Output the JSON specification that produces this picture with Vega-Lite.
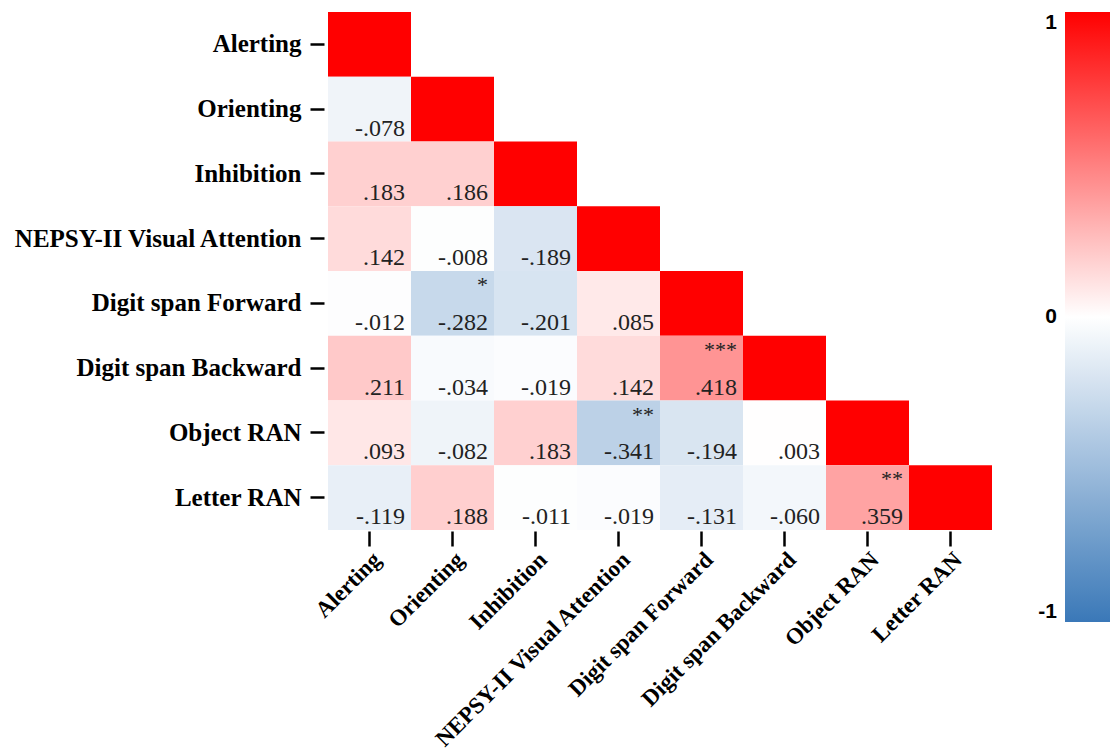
{
  "$schema": "https://vega.github.io/schema/vega-lite/v6.json",
  "autosize": {"type": "none"},
  "padding": {"left": 328, "top": 12, "right": 118, "bottom": 224},
  "width": 664,
  "height": 518,
  "background": "white",
  "config": {"view": {"stroke": null}},
  "data": {"values": [
    {"row": "Alerting", "col": "Alerting", "r": 1, "txt": "", "sig": ""},
    {"row": "Orienting", "col": "Alerting", "r": -0.078, "txt": "-.078", "sig": ""},
    {"row": "Orienting", "col": "Orienting", "r": 1, "txt": "", "sig": ""},
    {"row": "Inhibition", "col": "Alerting", "r": 0.183, "txt": ".183", "sig": ""},
    {"row": "Inhibition", "col": "Orienting", "r": 0.186, "txt": ".186", "sig": ""},
    {"row": "Inhibition", "col": "Inhibition", "r": 1, "txt": "", "sig": ""},
    {"row": "NEPSY-II Visual Attention", "col": "Alerting", "r": 0.142, "txt": ".142", "sig": ""},
    {"row": "NEPSY-II Visual Attention", "col": "Orienting", "r": -0.008, "txt": "-.008", "sig": ""},
    {"row": "NEPSY-II Visual Attention", "col": "Inhibition", "r": -0.189, "txt": "-.189", "sig": ""},
    {"row": "NEPSY-II Visual Attention", "col": "NEPSY-II Visual Attention", "r": 1, "txt": "", "sig": ""},
    {"row": "Digit span Forward", "col": "Alerting", "r": -0.012, "txt": "-.012", "sig": ""},
    {"row": "Digit span Forward", "col": "Orienting", "r": -0.282, "txt": "-.282", "sig": "*"},
    {"row": "Digit span Forward", "col": "Inhibition", "r": -0.201, "txt": "-.201", "sig": ""},
    {"row": "Digit span Forward", "col": "NEPSY-II Visual Attention", "r": 0.085, "txt": ".085", "sig": ""},
    {"row": "Digit span Forward", "col": "Digit span Forward", "r": 1, "txt": "", "sig": ""},
    {"row": "Digit span Backward", "col": "Alerting", "r": 0.211, "txt": ".211", "sig": ""},
    {"row": "Digit span Backward", "col": "Orienting", "r": -0.034, "txt": "-.034", "sig": ""},
    {"row": "Digit span Backward", "col": "Inhibition", "r": -0.019, "txt": "-.019", "sig": ""},
    {"row": "Digit span Backward", "col": "NEPSY-II Visual Attention", "r": 0.142, "txt": ".142", "sig": ""},
    {"row": "Digit span Backward", "col": "Digit span Forward", "r": 0.418, "txt": ".418", "sig": "***"},
    {"row": "Digit span Backward", "col": "Digit span Backward", "r": 1, "txt": "", "sig": ""},
    {"row": "Object RAN", "col": "Alerting", "r": 0.093, "txt": ".093", "sig": ""},
    {"row": "Object RAN", "col": "Orienting", "r": -0.082, "txt": "-.082", "sig": ""},
    {"row": "Object RAN", "col": "Inhibition", "r": 0.183, "txt": ".183", "sig": ""},
    {"row": "Object RAN", "col": "NEPSY-II Visual Attention", "r": -0.341, "txt": "-.341", "sig": "**"},
    {"row": "Object RAN", "col": "Digit span Forward", "r": -0.194, "txt": "-.194", "sig": ""},
    {"row": "Object RAN", "col": "Digit span Backward", "r": 0.003, "txt": ".003", "sig": ""},
    {"row": "Object RAN", "col": "Object RAN", "r": 1, "txt": "", "sig": ""},
    {"row": "Letter RAN", "col": "Alerting", "r": -0.119, "txt": "-.119", "sig": ""},
    {"row": "Letter RAN", "col": "Orienting", "r": 0.188, "txt": ".188", "sig": ""},
    {"row": "Letter RAN", "col": "Inhibition", "r": -0.011, "txt": "-.011", "sig": ""},
    {"row": "Letter RAN", "col": "NEPSY-II Visual Attention", "r": -0.019, "txt": "-.019", "sig": ""},
    {"row": "Letter RAN", "col": "Digit span Forward", "r": -0.131, "txt": "-.131", "sig": ""},
    {"row": "Letter RAN", "col": "Digit span Backward", "r": -0.060, "txt": "-.060", "sig": ""},
    {"row": "Letter RAN", "col": "Object RAN", "r": 0.359, "txt": ".359", "sig": "**"},
    {"row": "Letter RAN", "col": "Letter RAN", "r": 1, "txt": "", "sig": ""}
  ]},
  "encoding": {
    "x": {
      "field": "col", "type": "nominal",
      "sort": ["Alerting", "Orienting", "Inhibition", "NEPSY-II Visual Attention", "Digit span Forward", "Digit span Backward", "Object RAN", "Letter RAN"],
      "scale": {"paddingInner": 0, "paddingOuter": 0},
      "axis": {
        "title": null, "domain": false, "orient": "bottom",
        "offset": 1, "tickSize": 15, "tickWidth": 2.5, "tickColor": "black",
        "labelAngle": -45, "labelAlign": "right", "labelBaseline": "top", "labelPadding": 2,
        "labelFont": "Liberation Serif", "labelFontWeight": "bold", "labelFontSize": 23, "labelColor": "black",
        "labelLimit": 400
      }
    },
    "y": {
      "field": "row", "type": "nominal",
      "sort": ["Alerting", "Orienting", "Inhibition", "NEPSY-II Visual Attention", "Digit span Forward", "Digit span Backward", "Object RAN", "Letter RAN"],
      "scale": {"paddingInner": 0, "paddingOuter": 0},
      "axis": {
        "title": null, "domain": false,
        "offset": 4, "tickSize": 14, "tickWidth": 2.5, "tickColor": "black",
        "labelPadding": 9,
        "labelFont": "Liberation Serif", "labelFontWeight": "bold", "labelFontSize": 25, "labelColor": "black",
        "labelLimit": 400
      }
    }
  },
  "layer": [
    {
      "mark": {"type": "rect"},
      "encoding": {
        "color": {
          "field": "r", "type": "quantitative",
          "scale": {"domain": [-1, 0, 1], "range": ["#3a78b8", "#ffffff", "#ff0000"], "interpolate": "rgb"},
          "legend": {
            "title": null, "orient": "none", "legendX": 737, "legendY": 0,
            "direction": "vertical", "gradientLength": 610, "gradientThickness": 45,
            "gradientStrokeWidth": 0, "values": [-1, 0, 1],
            "labelExpr": "'' + datum.value",
            "labelOffset": -53,
            "labelFont": "Liberation Sans", "labelFontWeight": "bold", "labelFontSize": 21, "labelColor": "black",
            "encode": {"labels": {"update": {"align": {"value": "right"}}}}
          }
        }
      }
    },
    {
      "mark": {"type": "text", "align": "right", "baseline": "alphabetic", "dx": -6, "dy": -6, "font": "Liberation Serif", "fontSize": 24, "color": "#222222"},
      "encoding": {
        "x": {"field": "col", "type": "nominal", "sort": ["Alerting", "Orienting", "Inhibition", "NEPSY-II Visual Attention", "Digit span Forward", "Digit span Backward", "Object RAN", "Letter RAN"], "bandPosition": 1},
        "y": {"field": "row", "type": "nominal", "sort": ["Alerting", "Orienting", "Inhibition", "NEPSY-II Visual Attention", "Digit span Forward", "Digit span Backward", "Object RAN", "Letter RAN"], "bandPosition": 1},
        "text": {"field": "txt"}
      }
    },
    {
      "mark": {"type": "text", "align": "right", "baseline": "top", "dx": -6, "dy": 4, "font": "Liberation Serif", "fontSize": 22, "color": "#222222"},
      "encoding": {
        "x": {"field": "col", "type": "nominal", "sort": ["Alerting", "Orienting", "Inhibition", "NEPSY-II Visual Attention", "Digit span Forward", "Digit span Backward", "Object RAN", "Letter RAN"], "bandPosition": 1},
        "y": {"field": "row", "type": "nominal", "sort": ["Alerting", "Orienting", "Inhibition", "NEPSY-II Visual Attention", "Digit span Forward", "Digit span Backward", "Object RAN", "Letter RAN"], "bandPosition": 0},
        "text": {"field": "sig"}
      }
    }
  ]
}
